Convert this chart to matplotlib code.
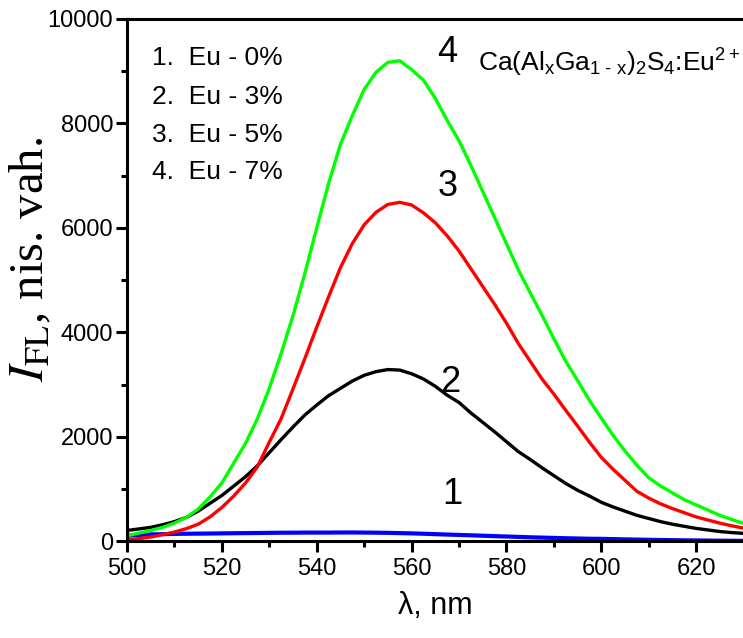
import numpy as np
import matplotlib
matplotlib.use('Agg')
import matplotlib.pyplot as plt
from matplotlib.ticker import MultipleLocator

# wavelength grid, nm
wl = np.arange(500, 630.01, 2.5)

# 1. Eu - 0%
eu0 = [110, 125, 135, 140, 145, 148, 150, 152, 155, 158, 160, 162, 165, 167,
       168, 170, 170, 170, 172, 172, 170, 168, 165, 160, 155, 148, 140, 132,
       125, 118, 110, 102, 95, 88, 80, 74, 68, 62, 57, 52, 50, 45, 40, 36,
       32, 28, 25, 22, 20, 17, 15, 13, 12]
# 2. Eu - 3%
eu3 = [210, 240, 270, 320, 380, 460, 580, 730, 880, 1060, 1240, 1450, 1700,
       1950, 2190, 2420, 2610, 2790, 2930, 3070, 3180, 3250, 3290, 3280, 3210,
       3110, 2970, 2800, 2660, 2460, 2280, 2100, 1910, 1720, 1570, 1410, 1260,
       1110, 980, 870, 750, 660, 580, 500, 440, 380, 330, 290, 250, 220, 190,
       170, 155]
# 3. Eu - 5%
eu5 = [30, 55, 85, 130, 180, 245, 330, 470, 650, 870, 1120, 1430, 1900, 2350,
       2920, 3500, 4100, 4680, 5240, 5700, 6060, 6300, 6450, 6490, 6440, 6290,
       6100, 5850, 5560, 5220, 4880, 4540, 4180, 3790, 3450, 3110, 2820, 2510,
       2210, 1900, 1610, 1380, 1170, 960, 830, 720, 630, 550, 470, 410, 350,
       300, 255]
# 4. Eu - 7%
eu7 = [110, 160, 210, 270, 350, 460, 620, 850, 1120, 1500, 1880, 2350, 2930,
       3600, 4320, 5130, 6000, 6850, 7600, 8150, 8650, 8980, 9170, 9200, 9030,
       8830, 8480, 8060, 7670, 7200, 6700, 6200, 5700, 5200, 4760, 4330, 3880,
       3450, 3080, 2700, 2360, 2030, 1730, 1460, 1220, 1060, 930, 800, 700,
       600, 500, 420, 345]

series = [eu0, eu3, eu5, eu7]
colors = ['#0000ff', '#000000', '#ff0000', '#00ff00']
widths = [3.0, 2.4, 2.4, 2.4]
legend_lines = ['1.  Eu - 0%', '2.  Eu - 3%', '3.  Eu - 5%', '4.  Eu - 7%']
curve_tags = ['1', '2', '3', '4']

sans = 'Liberation Sans'
plt.rcParams['mathtext.fontset'] = 'custom'
plt.rcParams['mathtext.rm'] = sans
plt.rcParams['mathtext.it'] = sans
plt.rcParams['mathtext.bf'] = sans

fig = plt.figure(figsize=(7.43, 6.38), dpi=100)
ax = fig.add_axes([0.1709, 0.1513, 0.8299, 0.819])

for y, c, w in zip(series, colors, widths):
    ax.plot(wl, y, color=c, lw=w)

ax.set_xlim(500, 630)
ax.set_ylim(0, 10000)
ax.xaxis.set_major_locator(MultipleLocator(20))
ax.xaxis.set_minor_locator(MultipleLocator(10))
ax.yaxis.set_major_locator(MultipleLocator(2000))
ax.yaxis.set_minor_locator(MultipleLocator(1000))
ax.tick_params(which='major', length=8, width=2.2, pad=2)
ax.tick_params(which='minor', length=4, width=2.2)
ax.tick_params(axis='x', which='major', pad=4)
for lab in ax.get_xticklabels() + ax.get_yticklabels():
    lab.set_fontfamily(sans)
    lab.set_fontsize(17)

for s in ['left', 'bottom', 'top']:
    ax.spines[s].set_linewidth(2.2)
ax.spines['right'].set_visible(False)

ax.set_xlabel('λ, nm', fontsize=22, family=sans)
ax.xaxis.set_label_coords(0.5, -0.095)
ax.text(-0.155, 0.54, r'$I_{\mathrm{FL}}$, nis. vah.', rotation=90,
        transform=ax.transAxes, ha='center', va='center',
        fontsize=35, family='Liberation Serif', math_fontfamily='stix')

# legend block
leg_y = [9254, 8507, 7780, 7072]
for t, yy in zip(legend_lines, leg_y):
    ax.text(505.3, yy, t, fontsize=19, family=sans, ha='left', va='center')

# curve numbers
tag_xy = [(568.6, 890), (568.1, 3033), (567.7, 6800), (567.5, 9349)]
for t, (xx, yy) in zip(curve_tags, tag_xy):
    ax.text(xx, yy, t, fontsize=26, family=sans, ha='center', va='center')

ax.text(574.1, 8991,
        r'Ca(Al$_{x}$Ga$_{1\ \text{-}\ x}$)$_{2}$S$_{4}$:Eu$^{2+}$',
        fontsize=19, family=sans, ha='left', va='baseline')

fig.savefig('out.png', dpi=100)
